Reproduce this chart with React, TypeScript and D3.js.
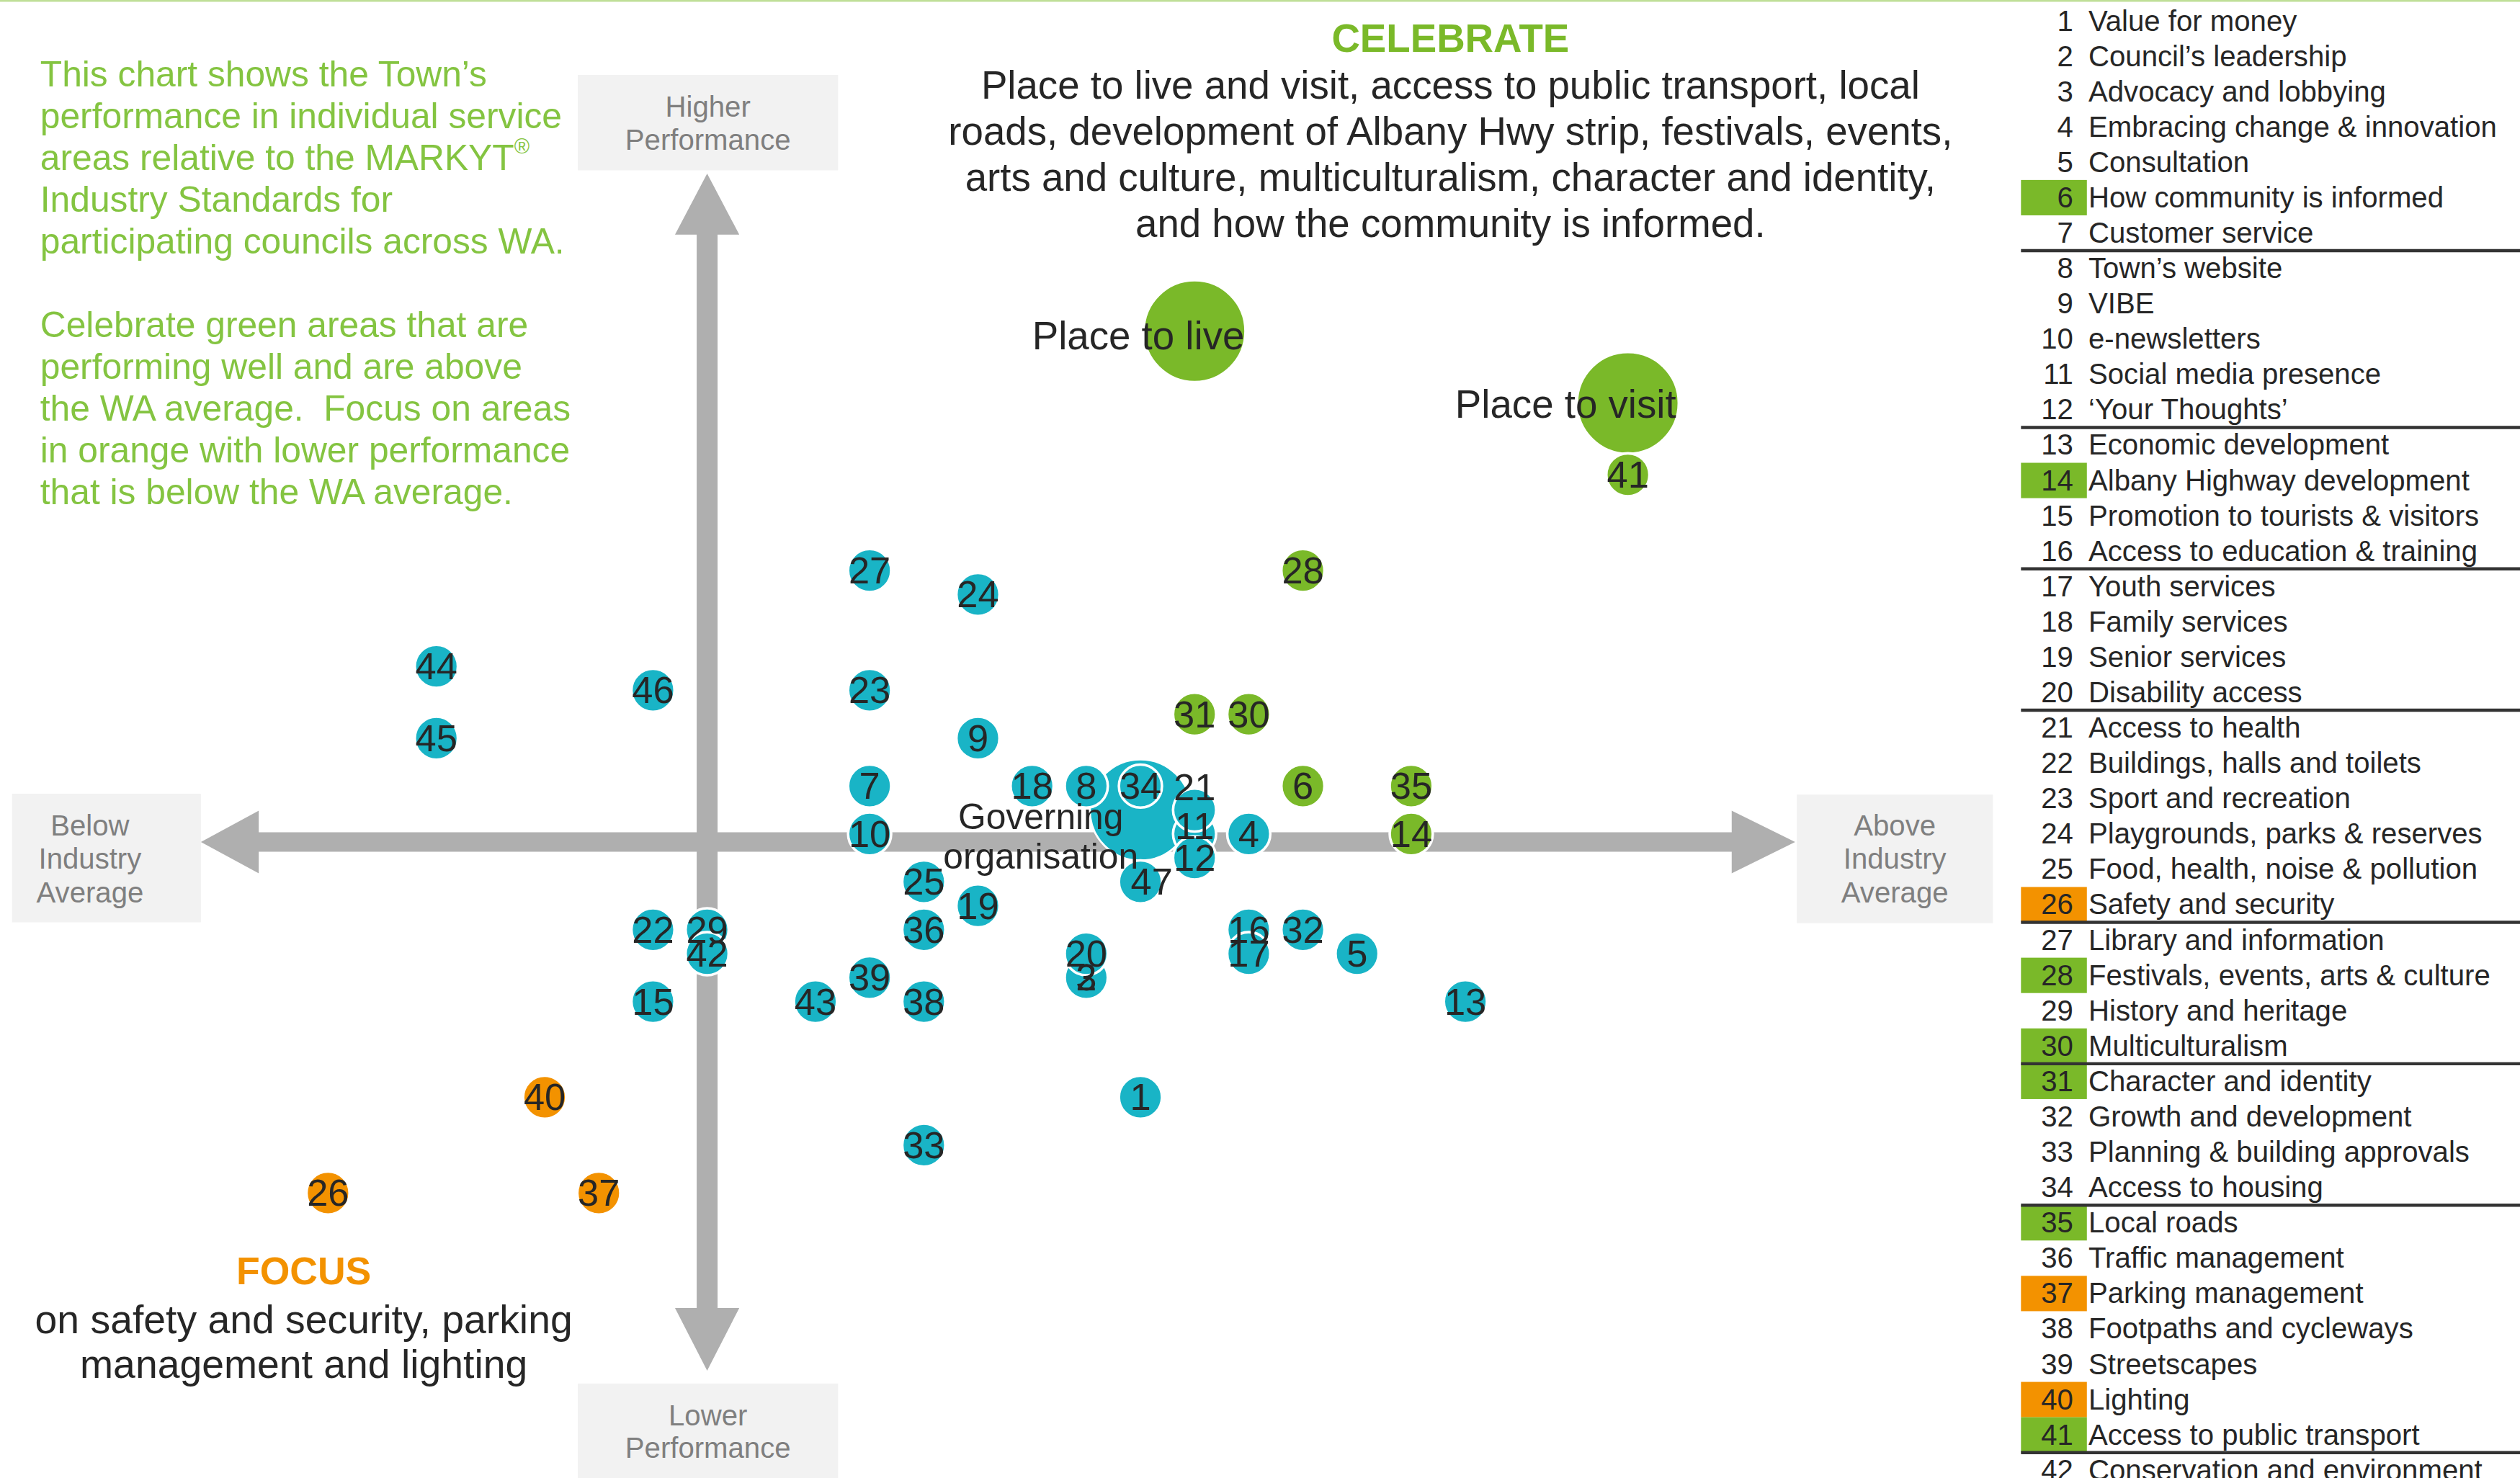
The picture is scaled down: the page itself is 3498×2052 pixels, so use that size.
import React from 'react';
import * as d3 from 'd3';

// ---------- DATA ----------
const serviceNames = [
  'Value for money', 'Council’s leadership', 'Advocacy and lobbying', 'Embracing change & innovation',
  'Consultation', 'How community is informed', 'Customer service', 'Town’s website', 'VIBE',
  'e-newsletters', 'Social media presence', '‘Your Thoughts’', 'Economic development',
  'Albany Highway development', 'Promotion to tourists & visitors', 'Access to education & training',
  'Youth services', 'Family services', 'Senior services', 'Disability access', 'Access to health',
  'Buildings, halls and toilets', 'Sport and recreation', 'Playgrounds, parks & reserves',
  'Food, health, noise & pollution', 'Safety and security', 'Library and information',
  'Festivals, events, arts & culture', 'History and heritage', 'Multiculturalism',
  'Character and identity', 'Growth and development', 'Planning & building approvals',
  'Access to housing', 'Local roads', 'Traffic management', 'Parking management',
  'Footpaths and cycleways', 'Streetscapes', 'Lighting', 'Access to public transport',
  'Conservation and environment',
];
const greenAreas = [6, 14, 28, 30, 31, 35, 41];
const orangeAreas = [26, 37, 40];
const legendGroupEnds = [7, 12, 16, 20, 26, 30, 34, 41];

const pointIds = [1, 2, 3, 4, 5, 6, 7, 8, 9, 10, 11, 12, 13, 14, 15, 16, 17, 18, 19, 20, 21, 22, 23, 24,
  25, 26, 27, 28, 29, 30, 31, 32, 33, 34, 35, 36, 37, 38, 39, 40, 41, 42, 43, 44, 45, 46, 47];
// relative to industry average
const pointX = [8, 7, 7, 10, 12, 11, 3, 7, 5, 3, 9, 9, 14, 13, -1, 10, 10, 6, 5, 7, 9, -1, 3, 5, 4, -7,
  3, 11, 0, 10, 9, 11, 4, 8, 13, 4, -2, 4, 3, -3, 17, 0, 2, -5, -5, -1, 8];
// performance
const pointY = [-11, -6, -6, 0, -5, 2, 2, 2, 4, 0, 0, -1, -7, 0, -7, -4, -5, 2, -3, -5, 1, -4, 6, 10, -2,
  -15, 11, 11, -4, 5, 5, -4, -13, 2, 2, -4, -15, -7, -6, -11, 15, -5, -7, 7, 4, 6, -2];

const bubbleNames = ['Place to live', 'Place to visit', 'Governing organisation'];
const bubbleX = [9, 17, 8];
const bubbleY = [21, 18, 1];
const bubbleGroup = ['green', 'green', 'cyan'];

const introLines1 = [
  'This chart shows the Town’s', 'performance in individual service', 'areas relative to the MARKYT',
  'Industry Standards for', 'participating councils across WA.',
];
const introLines2 = [
  'Celebrate green areas that are', 'performing well and are above', 'the WA average.  Focus on areas',
  'in orange with lower performance', 'that is below the WA average.',
];
const celebrateLines = [
  'Place to live and visit, access to public transport, local',
  'roads, development of Albany Hwy strip, festivals, events,',
  'arts and culture, multiculturalism, character and identity,',
  'and how the community is informed.',
];
const focusLines = ['on safety and security, parking', 'management and lighting'];

// ---------- STYLE ----------
const FONT = "'Liberation Sans', Arial, Helvetica, sans-serif";
const CYAN = '#19B4C6';
const GREEN = '#7AB929';
const ORANGE = '#F39200';
const TEXT = '#262626';
const AXIS = '#AFAFAF';
const BOX = '#F2F2F2';
const BOXTEXT = '#7F7F7F';
const INTRO = '#84C441';

const labelOffset: Record<number, [number, number]> = { 21: [0, -14], 11: [0, -5], 47: [7, 0] };

export default function App() {
  const W = 1568;
  const H = 919.8;
  const x = d3.scaleLinear().domain([0, 10]).range([440, 777]);
  const y = d3.scaleLinear().domain([0, 10]).range([519, 370]);
  const legendY = d3.scaleBand<number>().domain(serviceNames.map((_, i) => i + 1)).range([2, 2 + 42 * 22]);

  const colorOf = (id: number) =>
    greenAreas.includes(id) ? GREEN : orangeAreas.includes(id) ? ORANGE : CYAN;

  const ax = x(0);
  const ay = y(0) + 5;
  const vArrow = [
    [ax, 108], [ax + 20, 146], [ax + 6.5, 146], [ax + 6.5, 814], [ax + 20, 814], [ax, 853],
    [ax - 20, 814], [ax - 6.5, 814], [ax - 6.5, 146], [ax - 20, 146],
  ];
  const hArrow = [
    [125, ay], [161, ay - 19.5], [161, ay - 6], [1077.5, ay - 6], [1077.5, ay - 19.5], [1117, ay],
    [1077.5, ay + 19.5], [1077.5, ay + 6], [161, ay + 6], [161, ay + 19.5],
  ];
  const poly = (pts: number[][]) => pts.map((p) => p.join(',')).join(' ');

  const rSmall = 13.4;
  const rBig = 31.5;

  return (
    <svg
      width={3498}
      height={2052}
      viewBox={`0 0 ${W} ${H}`}
      style={{ position: 'absolute', left: 0, top: 0, background: '#fff' }}
      fontFamily={FONT}
    >
      <rect x={0} y={0} width={W} height={H} fill="#fff" />
      <line x1={0} x2={W} y1={0.5} y2={0.5} stroke="#BFDF98" strokeWidth={1.2} />

      {/* intro text */}
      {introLines1.map((t, i) => (
        <text key={'a' + i} x={25} y={46 + i * 26} fontSize={22.3} fill={INTRO} dominantBaseline="central">
          {t}
          {i === 2 && <tspan fontSize={13} dy={-7}>®</tspan>}
        </text>
      ))}
      {introLines2.map((t, i) => (
        <text key={'b' + i} x={25} y={202 + i * 26} fontSize={22.3} fill={INTRO} dominantBaseline="central"
          style={{ whiteSpace: 'pre' }}>
          {t}
        </text>
      ))}

      {/* celebrate */}
      <text x={902.5} y={24} fontSize={24.5} fontWeight="bold" fill={GREEN} textAnchor="middle" dominantBaseline="central">
        CELEBRATE
      </text>
      {celebrateLines.map((t, i) => (
        <text key={'c' + i} x={902.5} y={53 + i * 28.7} fontSize={24.5} fill={TEXT} textAnchor="middle" dominantBaseline="central">
          {t}
        </text>
      ))}

      {/* focus */}
      <text x={189} y={791} fontSize={24} fontWeight="bold" fill={ORANGE} textAnchor="middle" dominantBaseline="central">
        FOCUS
      </text>
      {focusLines.map((t, i) => (
        <text key={'f' + i} x={189} y={821 + i * 28} fontSize={24.8} fill={TEXT} textAnchor="middle" dominantBaseline="central">
          {t}
        </text>
      ))}

      {/* axis label boxes */}
      <rect x={359.5} y={46.6} width={162} height={59.4} fill={BOX} />
      <text x={440.5} y={66.5} fontSize={18} fill={BOXTEXT} textAnchor="middle" dominantBaseline="central">Higher</text>
      <text x={440.5} y={87} fontSize={18} fill={BOXTEXT} textAnchor="middle" dominantBaseline="central">Performance</text>

      <rect x={359.5} y={861} width={162} height={70} fill={BOX} />
      <text x={440.5} y={881} fontSize={18} fill={BOXTEXT} textAnchor="middle" dominantBaseline="central">Lower</text>
      <text x={440.5} y={901} fontSize={18} fill={BOXTEXT} textAnchor="middle" dominantBaseline="central">Performance</text>

      <rect x={7.5} y={494} width={117.5} height={80} fill={BOX} />
      {['Below', 'Industry', 'Average'].map((t, i) => (
        <text key={'bl' + i} x={56} y={514 + i * 20.7} fontSize={18} fill={BOXTEXT} textAnchor="middle" dominantBaseline="central">{t}</text>
      ))}
      <rect x={1118} y={494.5} width={122} height={80} fill={BOX} />
      {['Above', 'Industry', 'Average'].map((t, i) => (
        <text key={'ab' + i} x={1179} y={514 + i * 20.7} fontSize={18} fill={BOXTEXT} textAnchor="middle" dominantBaseline="central">{t}</text>
      ))}

      {/* axes arrows */}
      <polygon points={poly(hArrow)} fill={AXIS} />
      <polygon points={poly(vArrow)} fill={AXIS} />

      {/* big bubbles */}
      {bubbleNames.map((n, i) => (
        <circle key={'bb' + i} cx={x(bubbleX[i])} cy={y(bubbleY[i])} r={rBig}
          fill={bubbleGroup[i] === 'green' ? GREEN : CYAN} stroke="#fff" strokeWidth={1.2} />
      ))}

      {/* points */}
      {pointIds.map((id, i) => (
        <circle key={'p' + id} cx={x(pointX[i])} cy={y(pointY[i])} r={rSmall}
          fill={colorOf(id)} stroke="#fff" strokeWidth={1.6} />
      ))}

      {/* bubble labels */}
      <text x={x(bubbleX[0]) + 31} y={y(bubbleY[0]) + 3} fontSize={24.5} fill={TEXT} textAnchor="end" dominantBaseline="central">
        {bubbleNames[0]}
      </text>
      <text x={x(bubbleX[1]) + 30} y={y(bubbleY[1]) + 1} fontSize={24.5} fill={TEXT} textAnchor="end" dominantBaseline="central">
        {bubbleNames[1]}
      </text>
      {bubbleNames[2].split(' ').map((t, i) => (
        <text key={'go' + i} x={x(bubbleX[2]) - 62} y={y(bubbleY[2]) + 4 + i * 25} fontSize={22.3} fill={TEXT}
          textAnchor="middle" dominantBaseline="central">
          {t}
        </text>
      ))}

      {/* point labels */}
      {pointIds.map((id, i) => {
        const off = labelOffset[id] || [0, 0];
        return (
          <text key={'t' + id} x={x(pointX[i]) + off[0]} y={y(pointY[i]) + off[1]} fontSize={23.5} fill={TEXT}
            textAnchor="middle" dominantBaseline="central">
            {id}
          </text>
        );
      })}

      {/* legend */}
      {serviceNames.map((n, i) => {
        const id = i + 1;
        const top = legendY(id)!;
        const cy = top + legendY.bandwidth() / 2;
        const fill = greenAreas.includes(id) ? GREEN : orangeAreas.includes(id) ? ORANGE : null;
        return (
          <g key={'l' + id}>
            {fill && <rect x={1257.5} y={top} width={41} height={legendY.bandwidth()} fill={fill} />}
            <text x={1290} y={cy} fontSize={18} fill={TEXT} textAnchor="end" dominantBaseline="central">{id}</text>
            <text x={1299.5} y={cy} fontSize={18} fill={TEXT} dominantBaseline="central">{n}</text>
          </g>
        );
      })}
      {legendGroupEnds.map((id) => (
        <line key={'sep' + id} x1={1257.5} x2={W} y1={legendY(id)! + legendY.bandwidth()} y2={legendY(id)! + legendY.bandwidth()}
          stroke="#333" strokeWidth={2} />
      ))}
    </svg>
  );
}
